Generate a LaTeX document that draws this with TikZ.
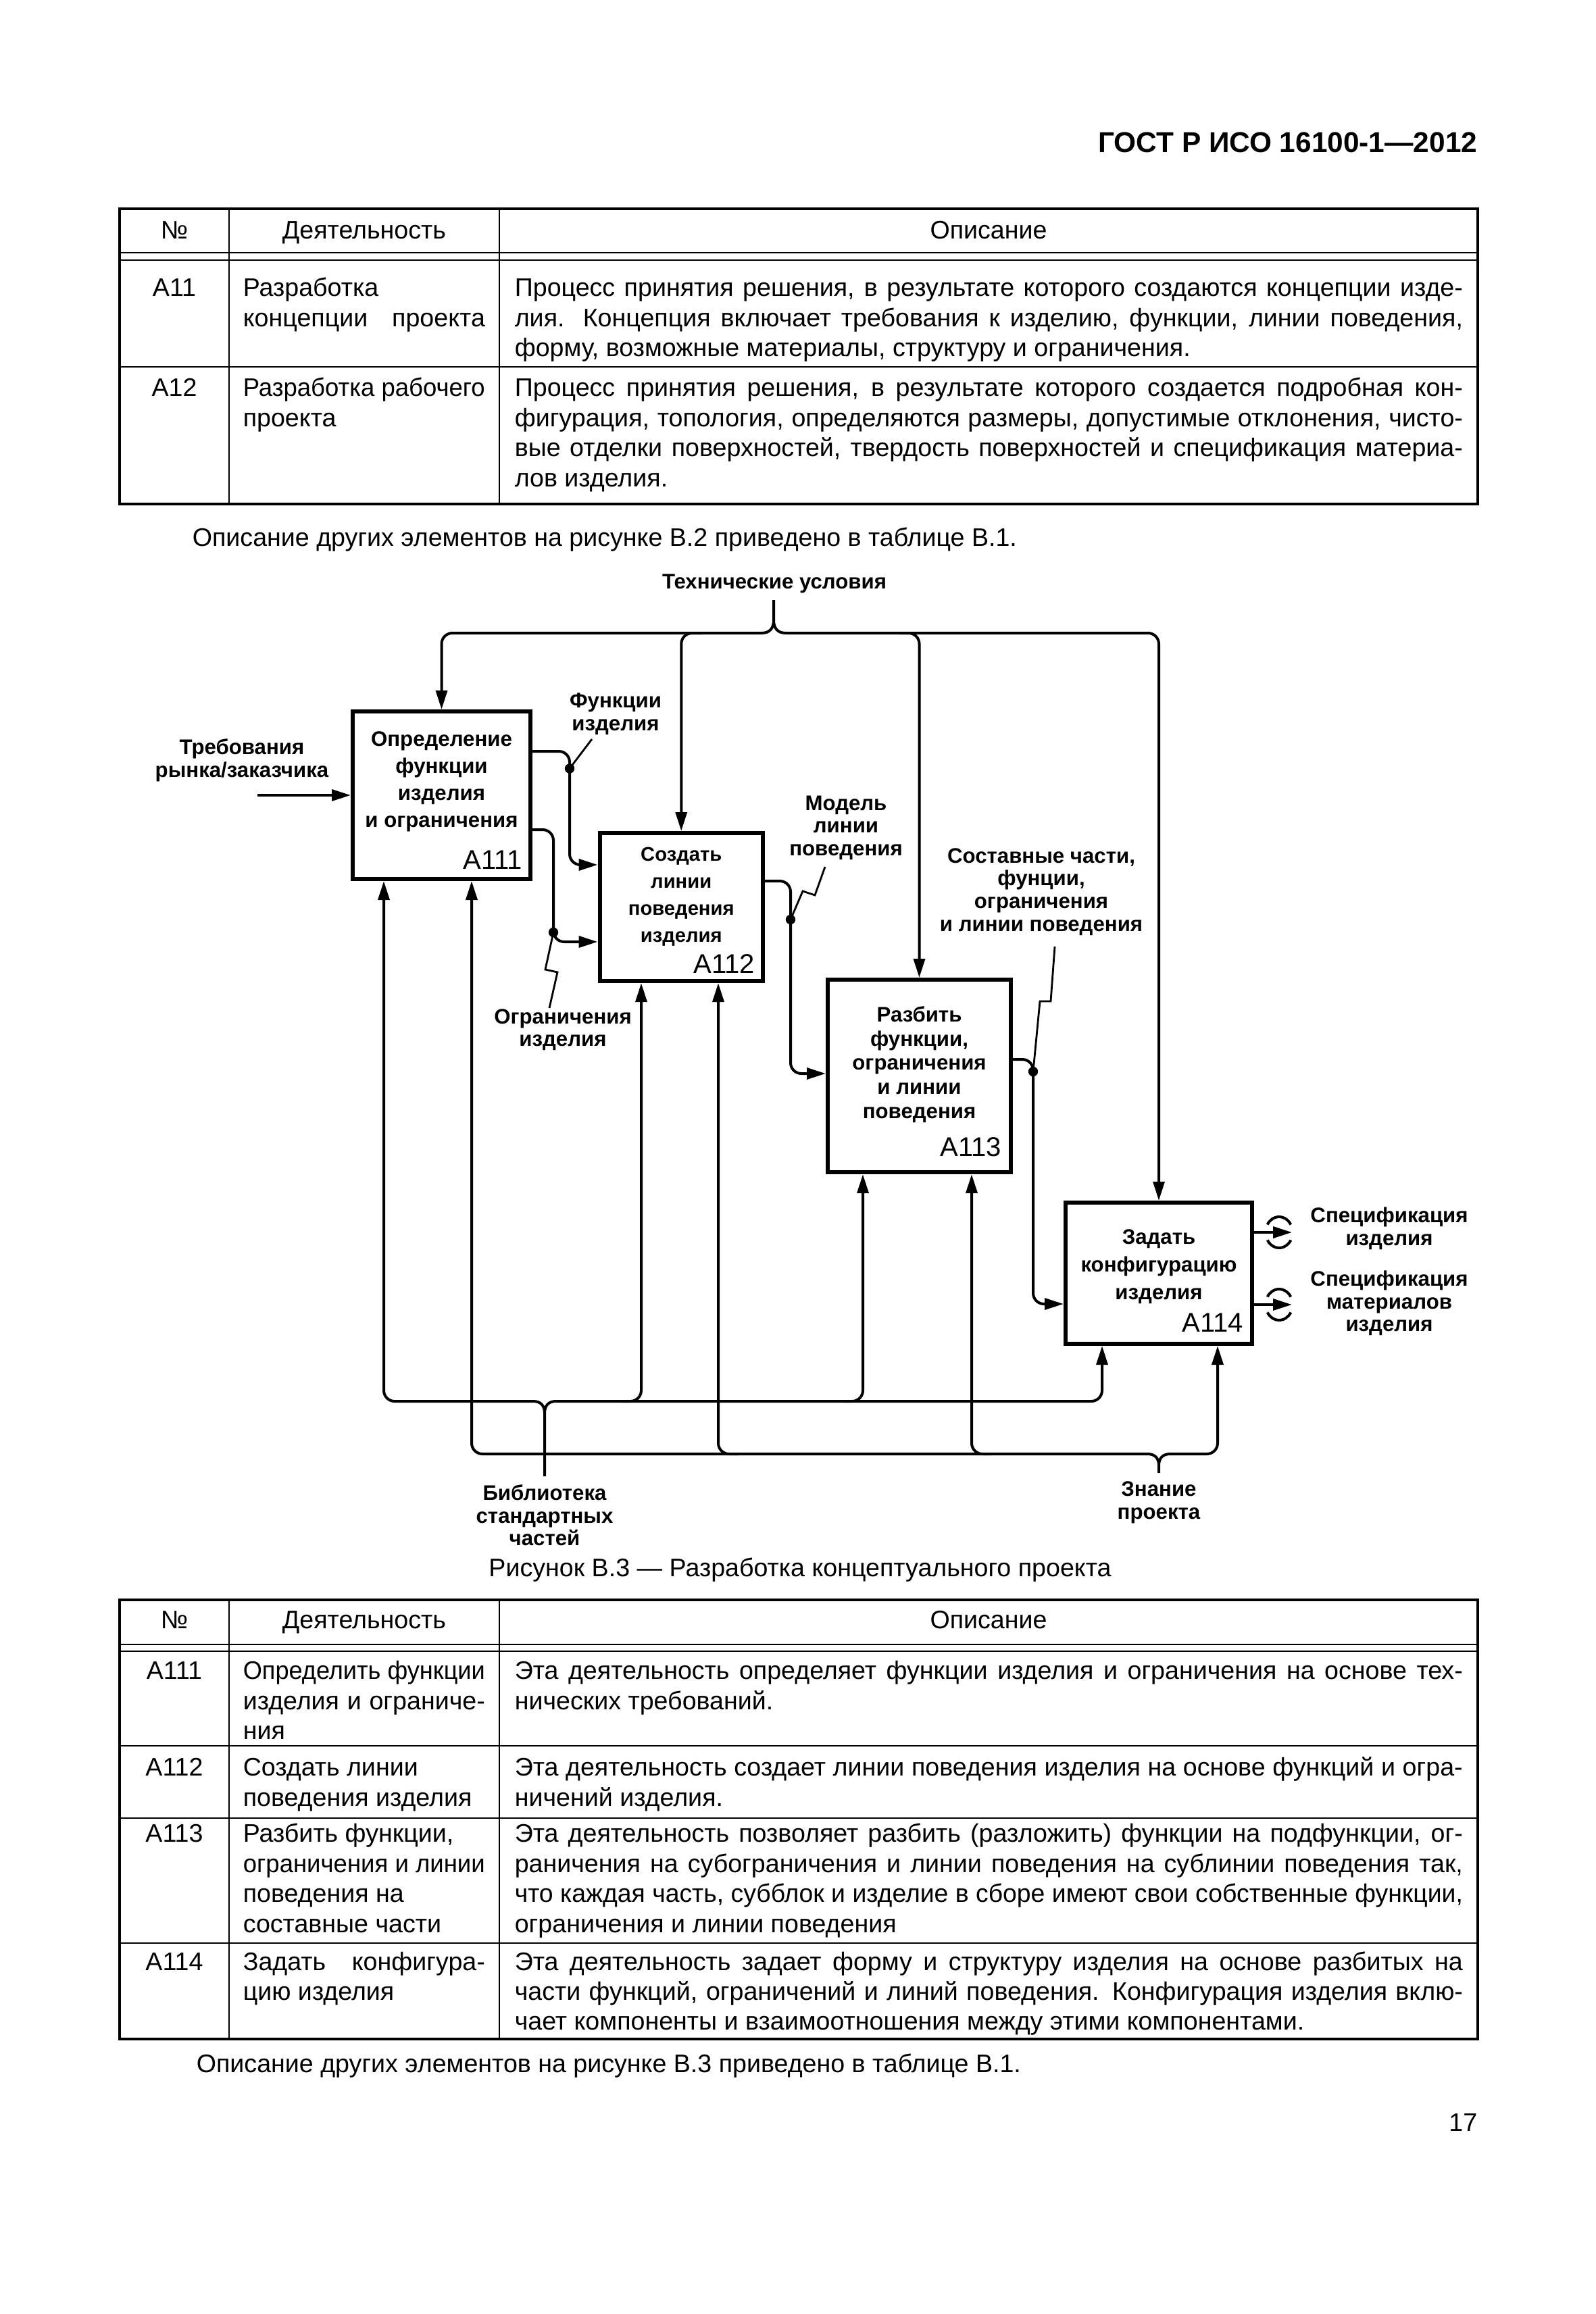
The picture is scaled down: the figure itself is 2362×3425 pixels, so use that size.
\documentclass[tikz,border=0pt]{standalone}
\usepackage{fontspec}
\setmainfont{Liberation Sans}
\usepackage{graphicx}
\usetikzlibrary{arrows.meta}
\newcommand{\fitj}[2]{\setbox0\hbox{#2}\ifdim\wd0>#1\relax\resizebox{#1}{\height}{#2}\else\makebox[#1][s]{#2}\fi}
\newcommand{\jc}[1]{\fitj{350.75pt}{#1}}
\newcommand{\jd}[1]{\fitj{89.5pt}{#1}}
\begin{document}
\begin{tikzpicture}[x=0.25pt,y=-0.25pt,
  tx/.style={font=\fontsize{9.4}{11.2}\selectfont, inner sep=0pt},
  hd/.style={font=\bfseries\fontsize{10.6}{12}\selectfont, inner sep=0pt},
  dl/.style={font=\bfseries\fontsize{7.8}{8.4}\selectfont, align=center, inner sep=0pt},
  bl/.style={font=\bfseries\fontsize{7.8}{10}\selectfont, align=center, inner sep=0pt},
  num/.style={font=\fontsize{10}{12}\selectfont, inner sep=0pt},
  box/.style={draw, line width=1.5pt, inner sep=0pt},
  ln/.style={line width=1pt},
  rc/.style={rounded corners=4pt},
  arr/.style={line width=1pt, -{Triangle[length=7pt,width=4.2pt]}},
  ldr/.style={line width=0.7pt},
  tbo/.style={line width=1pt},
  tbi/.style={line width=0.7pt}]
\path[use as bounding box, fill=white] (0,0) rectangle (2362,3425);

% header
\node[hd, anchor=base east] (hdr) at (2187,225) {ГОСТ Р ИСО 16100-1—2012};

% ---------- top table ----------
\draw[tbo] (177,309) rectangle (2187,746);
\draw[tbi] (339,309) -- (339,746) (739,309) -- (739,746);
\draw[tbi] (177,374) -- (2187,374) (177,385) -- (2187,385) (177,543) -- (2187,543);
\node[tx, anchor=mid] (ta1) at (258,343) {№};
\node[tx, anchor=mid] (ta2) at (539,343) {Деятельность};
\node[tx, anchor=mid] (ta3) at (1463,343) {Описание};
\node[tx, anchor=mid] (tr1) at (258,428) {A11};
\node[tx, anchor=mid west] (tr1a) at (359,428) {Разработка};
\node[tx, anchor=mid west] (tr1b) at (359,472.5) {\jd{концепции проекта}};
\node[tx, anchor=mid west] (tr1c) at (761,428) {\jc{Процесс принятия решения, в результате которого создаются концепции изде-}};
\node[tx, anchor=mid west] (tr1d) at (761,472.5) {\jc{лия. Концепция включает требования к изделию, функции, линии поведения,}};
\node[tx, anchor=mid west] (tr1e) at (761,517) {форму, возможные материалы, структуру и ограничения.};
\node[tx, anchor=mid] (tr2) at (258,576) {A12};
\node[tx, anchor=mid west] (tr2a) at (359,576) {\jd{Разработка рабочего}};
\node[tx, anchor=mid west] (tr2b) at (359,620.5) {проекта};
\node[tx, anchor=mid west] (tr2c) at (761,576) {\jc{Процесс принятия решения, в результате которого создается подробная кон-}};
\node[tx, anchor=mid west] (tr2d) at (761,620.5) {\jc{фигурация, топология, определяются размеры, допустимые отклонения, чисто-}};
\node[tx, anchor=mid west] (tr2e) at (761,665) {\jc{вые отделки поверхностей, твердость поверхностей и спецификация материа-}};
\node[tx, anchor=mid west] (tr2f) at (761,709.5) {лов изделия.};

\node[tx, anchor=mid west] (par1) at (284,798) {Описание других элементов на рисунке В.2 приведено в таблице В.1.};

% ---------- diagram ----------
\node[box, minimum width=65.75pt, minimum height=62pt] (A111) at (653.5,1177) {};
\node[box, minimum width=60.375pt, minimum height=54.75pt] (A112) at (1008.25,1342.5) {};
\node[box, minimum width=67.75pt, minimum height=71.25pt] (A113) at (1360.5,1592.5) {};
\node[box, minimum width=69pt, minimum height=52.25pt] (A114) at (1715,1884.5) {};

\node[bl] (t111) at (653.5,1156.5) {Определение\\функции\\изделия\\и ограничения};
\node[bl, font=\bfseries\fontsize{7.3}{10}\selectfont] (t112) at (1008.25,1327) {Создать\\линии\\поведения\\изделия};
\node[bl, font=\bfseries\fontsize{7.8}{8.9}\selectfont] (t113) at (1360.5,1575.6) {Разбить\\функции,\\ограничения\\и линии\\поведения};
\node[bl, font=\bfseries\fontsize{7.8}{10.25}\selectfont] (t114) at (1715,1875) {Задать\\конфигурацию\\изделия};
\node[num, anchor=base east] (n111) at (774,1286) {A111};
\node[num, anchor=base east] (n112) at (1118,1440) {A112};
\node[num, anchor=base east] (n113) at (1483,1711) {A113};
\node[num, anchor=base east] (n114) at (1841,1971) {A114};

\node[dl] (tu) at (1146,864) {Технические условия};
\node[dl] (req) at (358,1125) {Требования\\рынка/заказчика};
\node[dl] (fun) at (911,1057) {Функции\\изделия};
\node[dl] (ogr) at (833,1524) {Ограничения\\изделия};
\node[dl] (mod) at (1252,1225) {Модель\\линии\\поведения};
\node[dl] (sost) at (1541,1320) {Составные части,\\фунции,\\ограничения\\и линии поведения};
\node[dl] (sp1) at (2056,1818) {Спецификация\\изделия};
\node[dl] (sp2) at (2056,1929) {Спецификация\\материалов\\изделия};
\node[dl] (lib) at (806,2243) {Библиотека\\стандартных\\частей};
\node[dl] (zn) at (1715,2224) {Знание\\проекта};

% helper levels
\coordinate (yT) at (0,937);
\coordinate (yB1) at (0,2074);
\coordinate (yB2) at (0,2152);
\coordinate (m11) at (568,0);
\coordinate (m12) at (698,0);
\coordinate (m21) at (949,0);
\coordinate (m22) at (1063,0);
\coordinate (m31) at (1277,0);
\coordinate (m32) at (1438,0);
\coordinate (m41) at (1631,0);
\coordinate (m42) at (1802,0);

% top brace (controls)
\coordinate (tuS) at (1145,888);
\draw[ln] (tuS) -- (1145,918) .. controls (1145,930) and (1139,937) .. (1127,937);
\draw[ln] (1145,918) .. controls (1145,930) and (1151,937) .. (1163,937);
\draw[arr, rc] (1127,937) -- (A111.north |- yT) -- (A111.north);
\draw[arr, rc] (1163,937) -- (A114.north |- yT) -- (A114.north);
\draw[arr, rc] (1040,937) -- (A112.north |- yT) -- (A112.north);
\draw[arr, rc] (1330,937) -- (A113.north |- yT) -- (A113.north);

% bottom brace 1 (library)
\coordinate (libS) at (806,2185);
\draw[ln] (libS) -- (806,2092) .. controls (806,2080) and (800,2074) .. (789,2074);
\draw[ln] (806,2092) .. controls (806,2080) and (812,2074) .. (823,2074);
\draw[arr, rc] (789,2074) -- (m11 |- yB1) -- (A111.south -| m11);
\draw[arr, rc] (823,2074) -- (m41 |- yB1) -- (A114.south -| m41);
\draw[arr, rc] (920,2074) -- (m21 |- yB1) -- (A112.south -| m21);
\draw[arr, rc] (1248,2074) -- (m31 |- yB1) -- (A113.south -| m31);

% bottom brace 2 (knowledge)
\coordinate (znS) at (1715,2180);
\draw[ln] (znS) -- (1715,2169) .. controls (1715,2158) and (1709,2152) .. (1698,2152);
\draw[ln] (1715,2169) .. controls (1715,2158) and (1721,2152) .. (1732,2152);
\draw[arr, rc] (1698,2152) -- (m12 |- yB2) -- (A111.south -| m12);
\draw[arr, rc] (1732,2152) -- (m42 |- yB2) -- (A114.south -| m42);
\draw[arr, rc] (1092,2152) -- (m22 |- yB2) -- (A112.south -| m22);
\draw[arr, rc] (1467,2152) -- (m32 |- yB2) -- (A113.south -| m32);

% input
\coordinate (inR) at (381,1177);
\draw[arr] (inR) -- (A111.west);

% internal flows
\coordinate (oF) at (0,1112); \coordinate (iF) at (0,1280);
\coordinate (oO) at (0,1228); \coordinate (iO) at (0,1394);
\coordinate (oM) at (0,1304); \coordinate (iM) at (0,1589);
\coordinate (oS) at (0,1568); \coordinate (iS) at (0,1930);
\draw[arr, rc] (A111.east |- oF) -- (843,1112) -- (843,1280) -- (A112.west |- iF);
\draw[arr, rc] (A111.east |- oO) -- (819,1228) -- (819,1394) -- (A112.west |- iO);
\draw[arr, rc] (A112.east |- oM) -- (1170,1304) -- (1170,1589) -- (A113.west |- iM);
\draw[arr, rc] (A113.east |- oS) -- (1529,1568) -- (1529,1930) -- (A114.west |- iS);

% junction dots and leaders
\coordinate (dF) at (843,1137.5);
\coordinate (dO) at (819,1380);
\coordinate (dM) at (1170,1361);
\coordinate (dS) at (1529,1586);
\fill (dF) circle[radius=1.8pt];
\fill (dO) circle[radius=1.8pt];
\fill (dM) circle[radius=1.8pt];
\fill (dS) circle[radius=1.8pt];
\coordinate (lF) at (876,1094);
\coordinate (lO) at (813,1492);
\coordinate (lM) at (1221,1283);
\coordinate (lS) at (1561,1401);
\draw[ldr] (dF) -- (lF);
\draw[ldr] (dO) -- (807,1435) -- (825,1439) -- (lO);
\draw[ldr] (dM) -- (1188,1319) -- (1206,1325) -- (lM);
\draw[ldr] (dS) -- (1539,1482) -- (1555,1482) -- (lS);

% outputs with tunnels
\coordinate (oP1) at (1912,1824);
\coordinate (oP2) at (1912,1931);
\draw[arr] (A114.east |- oP1) -- (oP1);
\draw[arr] (A114.east |- oP2) -- (oP2);
\draw[ln] (1910.3,1812.5) arc[start angle=30, end angle=150, x radius=5pt, y radius=5.75pt];
\draw[ln] (1875.7,1835.5) arc[start angle=210, end angle=330, x radius=5pt, y radius=5.75pt];
\draw[ln] (1910.3,1919.5) arc[start angle=30, end angle=150, x radius=5pt, y radius=5.75pt];
\draw[ln] (1875.7,1942.5) arc[start angle=210, end angle=330, x radius=5pt, y radius=5.75pt];

% caption
\node[tx, anchor=mid] (cap) at (1184,2323) {Рисунок В.3 — Разработка концептуального проекта};

% ---------- bottom table ----------
\draw[tbo] (177,2368) rectangle (2187,3018);
\draw[tbi] (339,2368) -- (339,3018) (739,2368) -- (739,3018);
\draw[tbi] (177,2434) -- (2187,2434) (177,2444) -- (2187,2444);
\draw[tbi] (177,2584) -- (2187,2584) (177,2691) -- (2187,2691) (177,2876) -- (2187,2876);
\node[tx, anchor=mid] (tb1) at (258,2400) {№};
\node[tx, anchor=mid] (tb2) at (539,2400) {Деятельность};
\node[tx, anchor=mid] (tb3) at (1463,2400) {Описание};

\node[tx, anchor=mid] (r1) at (258,2475) {A111};
\node[tx, anchor=mid west] (r1a) at (359,2475) {\jd{Определить функции}};
\node[tx, anchor=mid west] (r1b) at (359,2519.5) {\jd{изделия и ограниче-}};
\node[tx, anchor=mid west] (r1c) at (359,2564) {ния};
\node[tx, anchor=mid west] (r1d) at (761,2475) {\jc{Эта деятельность определяет функции изделия и ограничения на основе тех-}};
\node[tx, anchor=mid west] (r1e) at (761,2519.5) {нических требований.};

\node[tx, anchor=mid] (r2) at (258,2618) {A112};
\node[tx, anchor=mid west] (r2a) at (359,2618) {Создать линии};
\node[tx, anchor=mid west] (r2b) at (359,2662.5) {поведения изделия};
\node[tx, anchor=mid west] (r2c) at (761,2618) {\jc{Эта деятельность создает линии поведения изделия на основе функций и огра-}};
\node[tx, anchor=mid west] (r2d) at (761,2662.5) {ничений изделия.};

\node[tx, anchor=mid] (r3) at (258,2716) {A113};
\node[tx, anchor=mid west] (r3a) at (359,2716) {Разбить функции,};
\node[tx, anchor=mid west] (r3b) at (359,2760.5) {\jd{ограничения и линии}};
\node[tx, anchor=mid west] (r3c) at (359,2805) {поведения на};
\node[tx, anchor=mid west] (r3d) at (359,2849.5) {составные части};
\node[tx, anchor=mid west] (r3e) at (761,2716) {\jc{Эта деятельность позволяет разбить (разложить) функции на подфункции, ог-}};
\node[tx, anchor=mid west] (r3f) at (761,2760.5) {\jc{раничения на субограничения и линии поведения на сублинии поведения так,}};
\node[tx, anchor=mid west] (r3g) at (761,2805) {\jc{что каждая часть, субблок и изделие в сборе имеют свои собственные функции,}};
\node[tx, anchor=mid west] (r3h) at (761,2849.5) {ограничения и линии поведения};

\node[tx, anchor=mid] (r4) at (258,2906) {A114};
\node[tx, anchor=mid west] (r4a) at (359,2906) {\jd{Задать конфигура-}};
\node[tx, anchor=mid west] (r4b) at (359,2950) {цию изделия};
\node[tx, anchor=mid west] (r4c) at (761,2906) {\jc{Эта деятельность задает форму и структуру изделия на основе разбитых на}};
\node[tx, anchor=mid west] (r4d) at (761,2950) {\jc{части функций, ограничений и линий поведения. Конфигурация изделия вклю-}};
\node[tx, anchor=mid west] (r4e) at (761,2994) {чает компоненты и взаимоотношения между этими компонентами.};

\node[tx, anchor=mid west] (par2) at (290,3057) {Описание других элементов на рисунке В.3 приведено в таблице В.1.};
\node[tx, anchor=base east] (pg) at (2187,3154) {17};
\end{tikzpicture}
\end{document}
